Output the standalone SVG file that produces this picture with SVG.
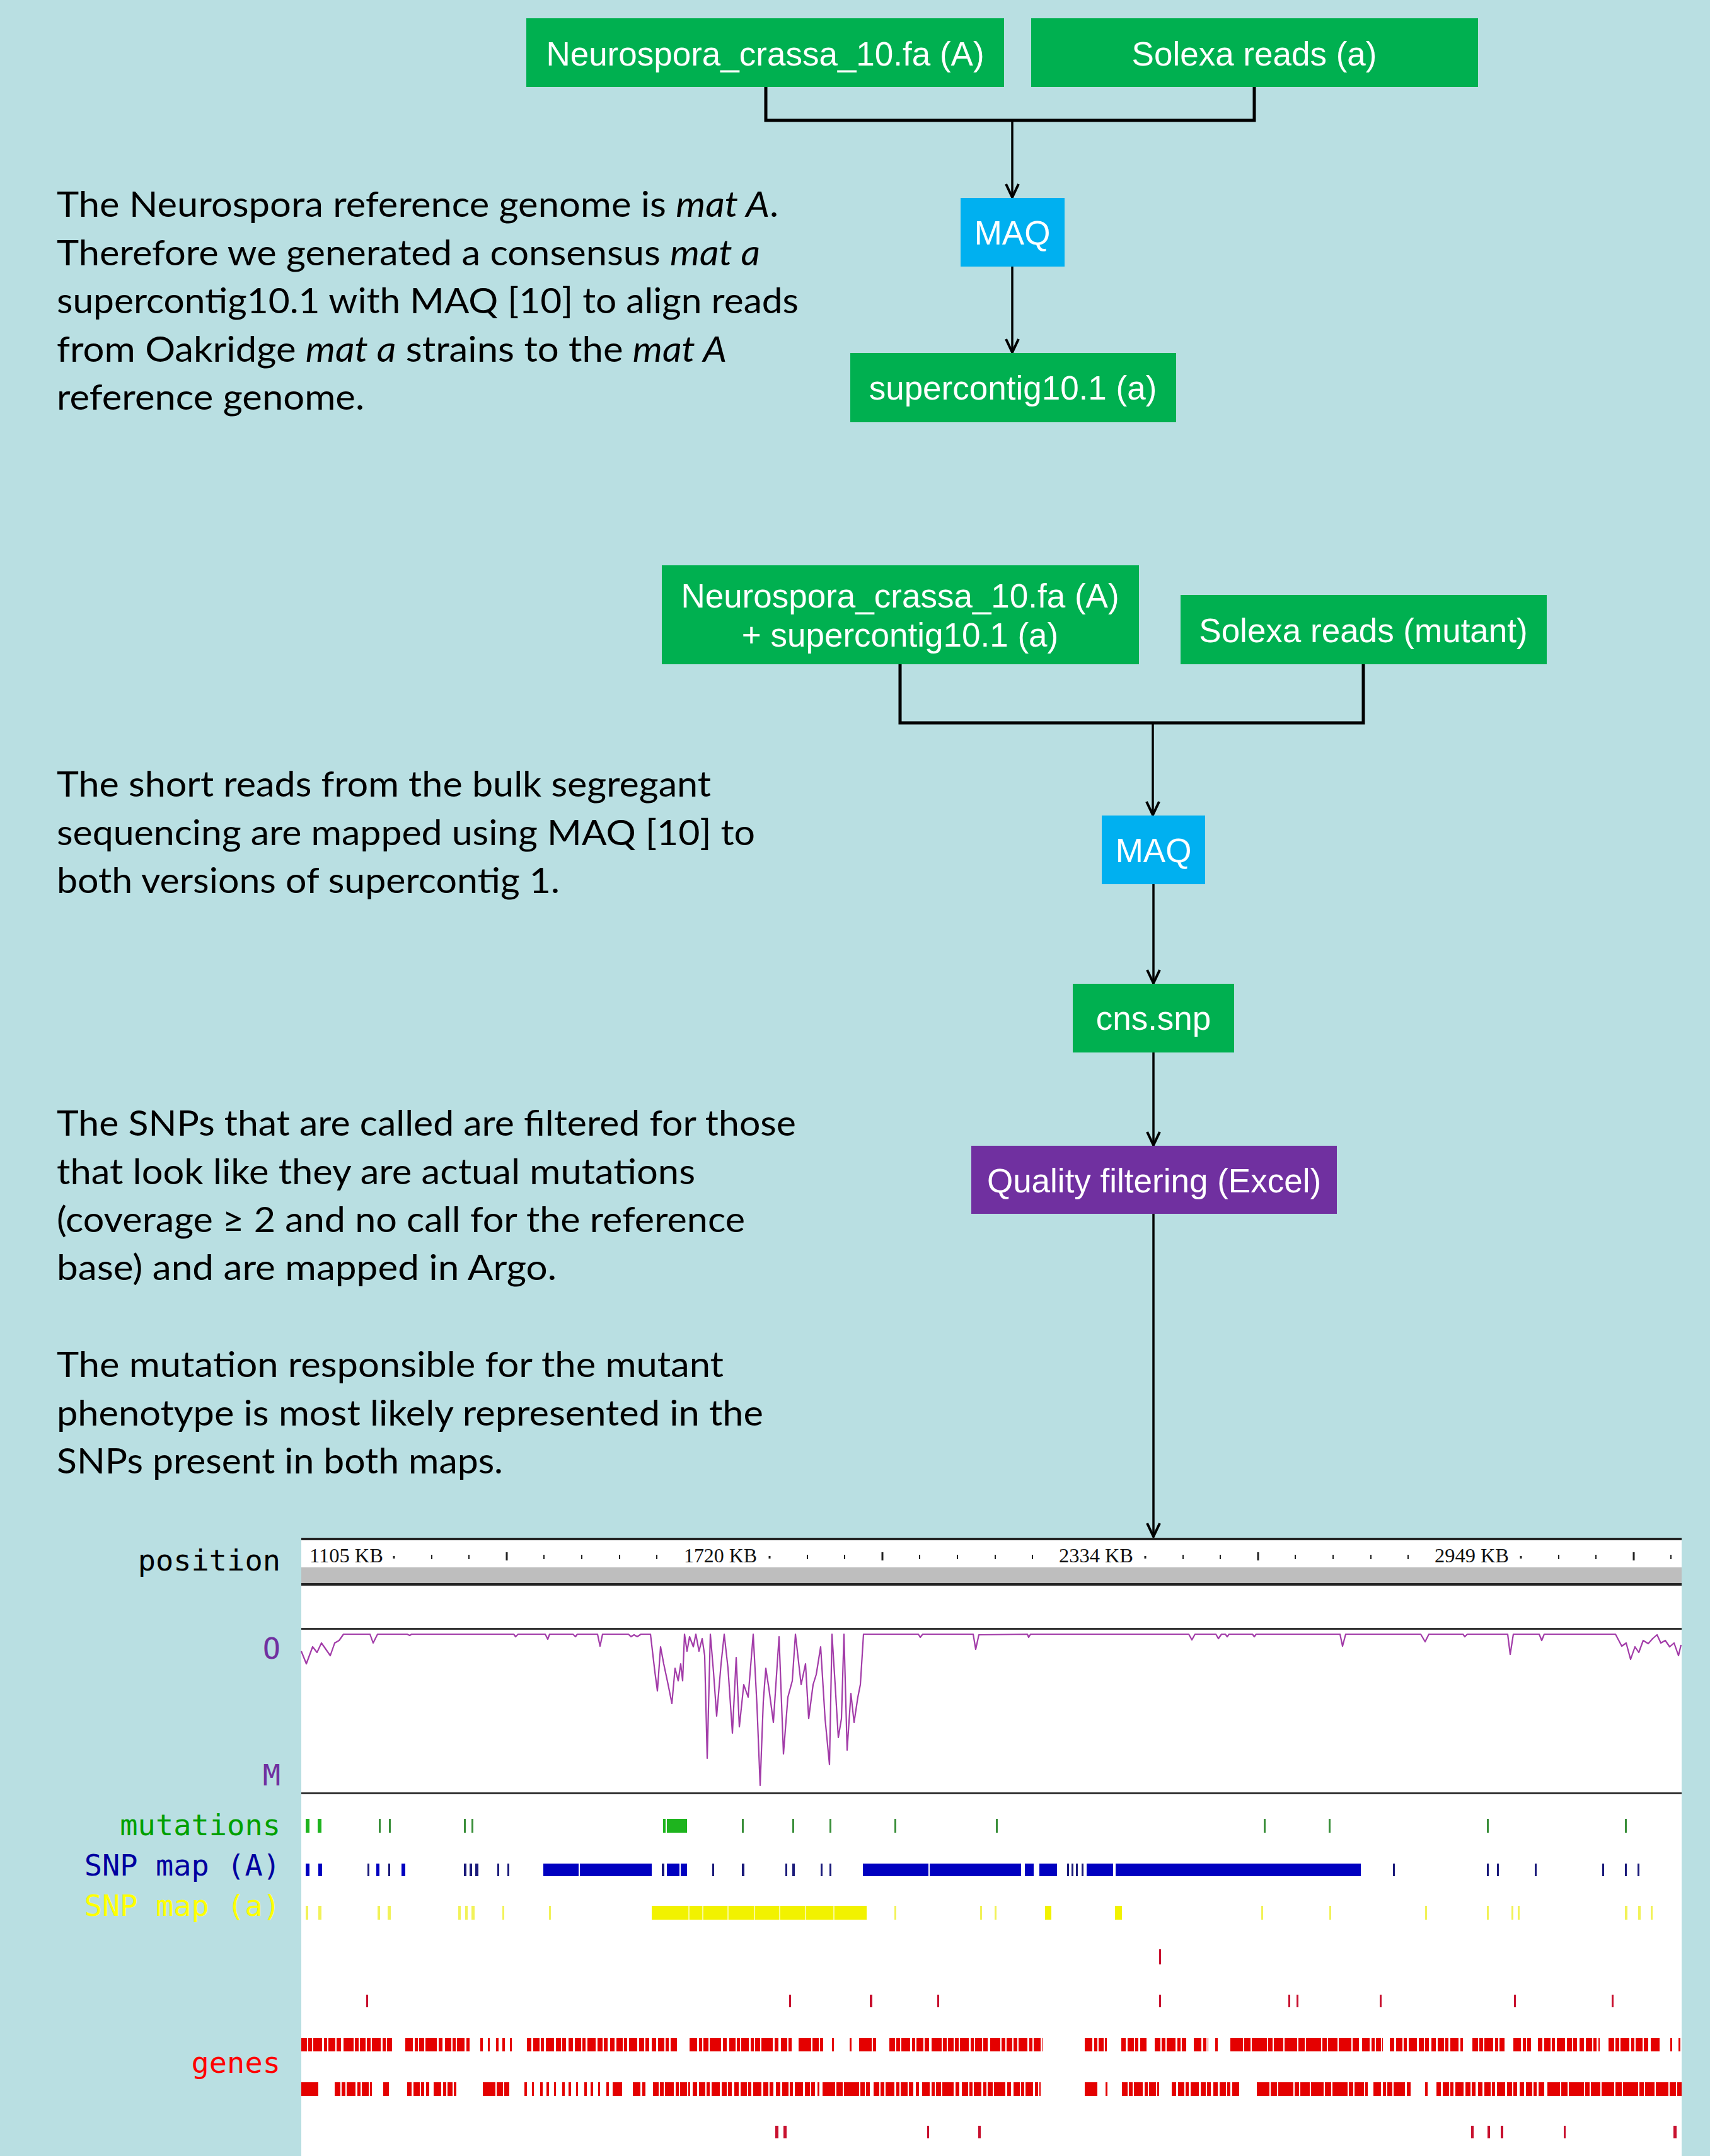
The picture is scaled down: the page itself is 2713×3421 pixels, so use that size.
<svg xmlns="http://www.w3.org/2000/svg" width="2713" height="3421" viewBox="0 0 2713 3421">
<defs>
<marker id="arr" markerUnits="userSpaceOnUse" markerWidth="30" markerHeight="30" viewBox="-25 -15 30 30" refX="0" refY="0" orient="auto">
<path d="M-21,-10 L0,0 L-21,10" fill="none" stroke="#000" stroke-width="4" stroke-linejoin="miter"/>
</marker>
</defs>
<style>
.boxt{font-family:"Liberation Sans",Arial,sans-serif;font-size:53px;fill:#fff;text-anchor:middle}
.body{font-family:Lato,"Open Sans",sans-serif;font-size:56px;fill:#000}
.it{font-style:italic}
.lbl{font-family:"DejaVu Sans Mono","Liberation Mono",monospace;font-size:47px;text-anchor:end}
.conn{stroke:#000;stroke-width:3.5;fill:none}
.brk{stroke:#000;stroke-width:5;fill:none}
.green{fill:#00B050}
.cyan{fill:#00B0F0}
.purp{fill:#7030A0}
.rul{font-family:"Liberation Serif","Times New Roman",serif;font-size:31px;fill:#111}
.g{stroke:#E40000;fill:none}
.r1{stroke-width:21}
.r2{stroke-width:22}
.p1{stroke-dasharray:9 2 6 2 14 3 5 2 11 2 7 4 16 2 6 2}
.p2{stroke-dasharray:12 3 5 2 8 2 18 3 6 4 10 2 5 2}
.p3{stroke-dasharray:4 8 3 10 4 6}
.p4{stroke-dasharray:20 2 10 2 24 2 7 2 15 2}
.p5{stroke-dasharray:7 3 10 2 5 3 13 3 8 2 6 4}
.mut{fill:#3A8F3A}
.mutb{fill:#1EB41E}
.snpA{fill:#1A1A7A}
.snpAb{fill:#0000C0}
.snpa{fill:#EDED20;opacity:0.75}
.snpab{fill:#F2F200}
.red{fill:#C8102E}
</style>
<rect x="0" y="0" width="2713" height="3421" fill="#B9DFE2"/>

<!-- Text blocks -->
<g id="text1" class="body">
<text x="90" y="344" textLength="1145" lengthAdjust="spacingAndGlyphs">The Neurospora reference genome is <tspan class="it">mat A</tspan>.</text>
<text x="90" y="421" textLength="1116" lengthAdjust="spacingAndGlyphs">Therefore we generated a consensus <tspan class="it">mat a</tspan></text>
<text x="90" y="497" textLength="1177" lengthAdjust="spacingAndGlyphs">supercontig10.1 with MAQ [10] to align reads</text>
<text x="90" y="574" textLength="1063" lengthAdjust="spacingAndGlyphs">from Oakridge <tspan class="it">mat a</tspan> strains to the <tspan class="it">mat A</tspan></text>
<text x="90" y="650" textLength="488" lengthAdjust="spacingAndGlyphs">reference genome.</text>
</g>
<g id="text2" class="body">
<text x="90" y="1264" textLength="1038" lengthAdjust="spacingAndGlyphs">The short reads from the bulk segregant</text>
<text x="90" y="1341" textLength="1108" lengthAdjust="spacingAndGlyphs">sequencing are mapped using MAQ [10] to</text>
<text x="90" y="1417" textLength="798" lengthAdjust="spacingAndGlyphs">both versions of supercontig 1.</text>
</g>
<g id="text3" class="body">
<text x="90" y="1802" textLength="1173" lengthAdjust="spacingAndGlyphs">The SNPs that are called are filtered for those</text>
<text x="90" y="1879" textLength="1013" lengthAdjust="spacingAndGlyphs">that look like they are actual mutations</text>
<text x="90" y="1955" textLength="1092" lengthAdjust="spacingAndGlyphs">(coverage ≥ 2 and no call for the reference</text>
<text x="90" y="2031" textLength="793" lengthAdjust="spacingAndGlyphs">base) and are mapped in Argo.</text>
</g>
<g id="text4" class="body">
<text x="90" y="2185" textLength="1058" lengthAdjust="spacingAndGlyphs">The mutation responsible for the mutant</text>
<text x="90" y="2262" textLength="1121" lengthAdjust="spacingAndGlyphs">phenotype is most likely represented in the</text>
<text x="90" y="2338" textLength="708" lengthAdjust="spacingAndGlyphs">SNPs present in both maps.</text>
</g>

<!-- Connectors -->
<g id="connectors">
<path class="brk" d="M1215,138 V191 H1990 V138"/>
<line class="conn" x1="1606" y1="191" x2="1606" y2="313" marker-end="url(#arr)"/>
<line class="conn" x1="1606" y1="423" x2="1606" y2="559" marker-end="url(#arr)"/>
<path class="brk" d="M1428,1054 V1147 H2163 V1054"/>
<line class="conn" x1="1829" y1="1147" x2="1829" y2="1293" marker-end="url(#arr)"/>
<line class="conn" x1="1830" y1="1403" x2="1830" y2="1560" marker-end="url(#arr)"/>
<line class="conn" x1="1830" y1="1670" x2="1830" y2="1817" marker-end="url(#arr)"/>
<line class="conn" x1="1830" y1="1926" x2="1830" y2="2438" marker-end="url(#arr)"/>
</g>

<!-- Nodes -->
<g id="node-neurospora">
<rect class="green" x="835" y="29" width="758" height="109"/>
<text class="boxt" x="1214" y="104">Neurospora_crassa_10.fa (A)</text>
</g>
<g id="node-solexa-a">
<rect class="green" x="1636" y="29" width="709" height="109"/>
<text class="boxt" x="1990" y="104">Solexa reads (a)</text>
</g>
<g id="node-maq1">
<rect class="cyan" x="1524" y="314" width="165" height="109"/>
<text class="boxt" x="1606" y="388">MAQ</text>
</g>
<g id="node-supercontig">
<rect class="green" x="1349" y="560" width="517" height="110"/>
<text class="boxt" x="1607" y="634">supercontig10.1 (a)</text>
</g>
<g id="node-combined">
<rect class="green" x="1050" y="897" width="757" height="157"/>
<text class="boxt" x="1428" y="964">Neurospora_crassa_10.fa (A)</text>
<text class="boxt" x="1428" y="1026">+ supercontig10.1 (a)</text>
</g>
<g id="node-solexa-mutant">
<rect class="green" x="1873" y="944" width="581" height="110"/>
<text class="boxt" x="2163" y="1019">Solexa reads (mutant)</text>
</g>
<g id="node-maq2">
<rect class="cyan" x="1748" y="1294" width="164" height="109"/>
<text class="boxt" x="1830" y="1368">MAQ</text>
</g>
<g id="node-cns">
<rect class="green" x="1702" y="1561" width="256" height="109"/>
<text class="boxt" x="1830" y="1634">cns.snp</text>
</g>
<g id="node-quality">
<rect class="purp" x="1541" y="1818" width="580" height="108"/>
<text class="boxt" x="1831" y="1892">Quality filtering (Excel)</text>
</g>

<!-- Argo map panel -->
<g id="argo-panel">
<rect x="478" y="2440" width="2190" height="981" fill="#fff"/>
<rect x="478" y="2440" width="2190" height="4" fill="#222"/>
<rect x="478" y="2487" width="2190" height="26" fill="#BEBEBE"/>
<rect x="478" y="2512" width="2190" height="4" fill="#222"/>
<rect x="478" y="2583" width="2190" height="3" fill="#333"/>
<rect x="478" y="2844" width="2190" height="3" fill="#333"/>
<g class="rul">
<text x="491" y="2479" textLength="117" lengthAdjust="spacingAndGlyphs">1105 KB</text>
<text x="1085" y="2479" textLength="116" lengthAdjust="spacingAndGlyphs">1720 KB</text>
<text x="1680" y="2479" textLength="118" lengthAdjust="spacingAndGlyphs">2334 KB</text>
<text x="2276" y="2479" textLength="118" lengthAdjust="spacingAndGlyphs">2949 KB</text>
</g>
<path d="M625,2469v4M1221,2469v4M1817,2469v4M2413,2469v4" stroke="#222" stroke-width="3"/>
<path d="M685,2467v7M744,2467v7M863,2467v7M923,2467v7M983,2467v7M1042,2467v7M1281,2467v7M1340,2467v7M1459,2467v7M1519,2467v7M1579,2467v7M1638,2467v7M1877,2467v7M1936,2467v7M2055,2467v7M2115,2467v7M2175,2467v7M2234,2467v7M2473,2467v7M2532,2467v7M2651,2467v7" stroke="#222" stroke-width="2"/>
<path d="M804,2463v13M1400,2463v13M1996,2463v13M2592,2463v13" stroke="#222" stroke-width="3"/>

<polyline fill="none" stroke="#A23BA8" stroke-width="2.2" stroke-linejoin="round" points="478,2620 486,2640 496,2613 503,2622 510,2607 517,2617 524,2627 531,2607 538,2603 545,2593 587,2593 592,2607 599,2593 646,2593 650,2595 653,2593 815,2593 818,2597 822,2593 865,2593 869,2601 872,2593 909,2593 913,2597 916,2593 948,2593 952,2612 956,2593 997,2593 1001,2597 1006,2594 1011,2597 1017,2593 1032,2593 1039,2653 1043,2683 1048,2613 1053,2640 1060,2673 1066,2703 1071,2647 1076,2667 1080,2640 1083,2667 1086,2593 1090,2620 1094,2597 1100,2613 1104,2593 1109,2620 1114,2600 1118,2627 1122,2790 1127,2593 1132,2653 1137,2723 1144,2640 1149,2593 1155,2647 1162,2750 1168,2630 1173,2740 1180,2673 1187,2693 1195,2593 1201,2707 1206,2833 1211,2700 1215,2647 1220,2680 1227,2733 1236,2597 1243,2783 1250,2693 1257,2667 1262,2593 1271,2673 1278,2640 1283,2727 1290,2673 1295,2657 1302,2613 1309,2727 1316,2800 1320,2593 1325,2673 1330,2757 1335,2727 1339,2593 1344,2777 1350,2687 1355,2733 1361,2693 1365,2673 1370,2593 1457,2593 1460,2598 1464,2593 1544,2593 1548,2617 1553,2594 1630,2593 1632,2598 1635,2593 1886,2593 1891,2602 1896,2593 1929,2593 1933,2600 1938,2593 1944,2593 1947,2597 1950,2593 1987,2593 1990,2597 1993,2593 2126,2593 2130,2612 2135,2593 2254,2593 2261,2605 2267,2593 2321,2593 2324,2597 2328,2593 2392,2593 2396,2625 2401,2593 2442,2593 2446,2603 2450,2593 2563,2593 2573,2612 2580,2607 2587,2633 2594,2613 2600,2622 2607,2603 2615,2608 2622,2600 2629,2594 2635,2607 2642,2603 2649,2613 2656,2607 2663,2627 2667,2610"/>

<!-- mutations row -->
<g id="mutations">
<rect class="mutb" x="485" y="2886" width="6" height="22"/>
<rect class="mutb" x="504" y="2886" width="6" height="22"/>
<rect class="mut" x="601" y="2886" width="3" height="22"/>
<rect class="mut" x="617" y="2886" width="3" height="22"/>
<rect class="mut" x="736" y="2886" width="3" height="22"/>
<rect class="mut" x="748" y="2886" width="3" height="22"/>
<rect class="mutb" x="1052" y="2886" width="4" height="22"/>
<rect class="mutb" x="1058" y="2886" width="32" height="22"/>
<rect class="mut" x="1177" y="2886" width="3" height="22"/>
<rect class="mut" x="1257" y="2886" width="3" height="22"/>
<rect class="mut" x="1316" y="2886" width="3" height="22"/>
<rect class="mut" x="1419" y="2886" width="3" height="22"/>
<rect class="mut" x="1580" y="2886" width="3" height="22"/>
<rect class="mut" x="2005" y="2886" width="3" height="22"/>
<rect class="mut" x="2108" y="2886" width="3" height="22"/>
<rect class="mut" x="2359" y="2886" width="3" height="22"/>
<rect class="mut" x="2578" y="2886" width="3" height="22"/>
</g>

<!-- SNP map (A) -->
<g id="snp-A">
<rect class="snpAb" x="485" y="2957" width="6" height="20"/>
<rect class="snpAb" x="505" y="2957" width="6" height="20"/>
<rect class="snpA" x="583" y="2957" width="3" height="20"/>
<rect class="snpAb" x="597" y="2957" width="5" height="20"/>
<rect class="snpA" x="616" y="2957" width="3" height="20"/>
<rect class="snpAb" x="637" y="2957" width="6" height="20"/>
<rect class="snpA" x="736" y="2957" width="4" height="20"/>
<rect class="snpA" x="745" y="2957" width="4" height="20"/>
<rect class="snpA" x="754" y="2957" width="5" height="20"/>
<rect class="snpA" x="789" y="2957" width="3" height="20"/>
<rect class="snpA" x="805" y="2957" width="3" height="20"/>
<rect class="snpAb" x="862" y="2957" width="56" height="20"/>
<rect class="snpAb" x="920" y="2957" width="114" height="20"/>
<rect class="snpA" x="1050" y="2957" width="4" height="20"/>
<rect class="snpAb" x="1058" y="2957" width="20" height="20"/>
<rect class="snpAb" x="1080" y="2957" width="10" height="20"/>
<rect class="snpA" x="1130" y="2957" width="3" height="20"/>
<rect class="snpA" x="1177" y="2957" width="4" height="20"/>
<rect class="snpA" x="1246" y="2957" width="3" height="20"/>
<rect class="snpA" x="1257" y="2957" width="4" height="20"/>
<rect class="snpA" x="1302" y="2957" width="3" height="20"/>
<rect class="snpA" x="1316" y="2957" width="3" height="20"/>
<rect class="snpAb" x="1369" y="2957" width="104" height="20"/>
<rect class="snpAb" x="1475" y="2957" width="145" height="20"/>
<rect class="snpAb" x="1626" y="2957" width="14" height="20"/>
<rect class="snpAb" x="1649" y="2957" width="28" height="20"/>
<rect class="snpA" x="1693" y="2957" width="3" height="20"/>
<rect class="snpA" x="1700" y="2957" width="3" height="20"/>
<rect class="snpA" x="1707" y="2957" width="3" height="20"/>
<rect class="snpA" x="1716" y="2957" width="3" height="20"/>
<rect class="snpAb" x="1724" y="2957" width="42" height="20"/>
<rect class="snpAb" x="1770" y="2957" width="389" height="20"/>
<rect class="snpA" x="2210" y="2957" width="3" height="20"/>
<rect class="snpA" x="2359" y="2957" width="3" height="20"/>
<rect class="snpA" x="2375" y="2957" width="3" height="20"/>
<rect class="snpA" x="2435" y="2957" width="3" height="20"/>
<rect class="snpA" x="2542" y="2957" width="3" height="20"/>
<rect class="snpA" x="2578" y="2957" width="3" height="20"/>
<rect class="snpA" x="2598" y="2957" width="3" height="20"/>
</g>

<!-- SNP map (a) -->
<g id="snp-a">
<rect class="snpa" x="485" y="3024" width="4" height="22"/>
<rect class="snpa" x="505" y="3024" width="5" height="22"/>
<rect class="snpa" x="599" y="3024" width="4" height="22"/>
<rect class="snpa" x="615" y="3024" width="5" height="22"/>
<rect class="snpa" x="727" y="3024" width="4" height="22"/>
<rect class="snpa" x="738" y="3024" width="4" height="22"/>
<rect class="snpa" x="748" y="3024" width="5" height="22"/>
<rect class="snpa" x="797" y="3024" width="3" height="22"/>
<rect class="snpa" x="871" y="3024" width="3" height="22"/>
<rect class="snpab" x="1034" y="3024" width="341" height="22"/>
<path d="M1093,3024v22M1115,3024v22M1155,3024v22M1197,3024v22M1237,3024v22M1278,3024v22M1323,3024v22" stroke="#fff" stroke-width="2" opacity="0.6"/>
<rect class="snpa" x="1419" y="3024" width="3" height="22"/>
<rect class="snpa" x="1555" y="3024" width="3" height="22"/>
<rect class="snpa" x="1578" y="3024" width="3" height="22"/>
<rect class="snpab" x="1658" y="3024" width="10" height="22"/>
<rect class="snpab" x="1769" y="3024" width="11" height="22"/>
<rect class="snpa" x="2001" y="3024" width="3" height="22"/>
<rect class="snpa" x="2109" y="3024" width="3" height="22"/>
<rect class="snpa" x="2261" y="3024" width="3" height="22"/>
<rect class="snpa" x="2359" y="3024" width="3" height="22"/>
<rect class="snpa" x="2398" y="3024" width="3" height="22"/>
<rect class="snpa" x="2408" y="3024" width="3" height="22"/>
<rect class="snpa" x="2578" y="3024" width="4" height="22"/>
<rect class="snpa" x="2599" y="3024" width="4" height="22"/>
<rect class="snpa" x="2619" y="3024" width="3" height="22"/>
</g>

<!-- red single ticks -->
<g id="red-ticks">
<rect class="red" x="1839" y="3093" width="3" height="24"/>
<rect class="red" x="581" y="3165" width="3" height="20"/>
<rect class="red" x="1252" y="3165" width="3" height="20"/>
<rect class="red" x="1380" y="3165" width="4" height="20"/>
<rect class="red" x="1487" y="3165" width="3" height="20"/>
<rect class="red" x="1839" y="3165" width="3" height="20"/>
<rect class="red" x="2044" y="3165" width="3" height="20"/>
<rect class="red" x="2057" y="3165" width="3" height="20"/>
<rect class="red" x="2189" y="3165" width="3" height="20"/>
<rect class="red" x="2402" y="3165" width="3" height="20"/>
<rect class="red" x="2557" y="3165" width="3" height="20"/>
<rect class="red" x="1230" y="3373" width="5" height="20"/>
<rect class="red" x="1243" y="3373" width="5" height="20"/>
<rect class="red" x="1471" y="3373" width="3" height="20"/>
<rect class="red" x="1552" y="3373" width="4" height="20"/>
<rect class="red" x="2334" y="3373" width="4" height="20"/>
<rect class="red" x="2360" y="3373" width="4" height="20"/>
<rect class="red" x="2381" y="3373" width="4" height="20"/>
<rect class="red" x="2481" y="3373" width="3" height="20"/>
<rect class="red" x="2655" y="3373" width="5" height="20"/>
</g>

<!-- genes rows -->
<g id="genes-row1">
<line class="g r1 p1" x1="478" y1="3244.5" x2="622" y2="3244.5"/>
<line class="g r1 p2" x1="643" y1="3244.5" x2="745" y2="3244.5"/>
<line class="g r1 p3" x1="762" y1="3244.5" x2="822" y2="3244.5"/>
<line class="g r1 p5" x1="836" y1="3244.5" x2="1074" y2="3244.5"/>
<line class="g r1 p2" x1="1094" y1="3244.5" x2="1257" y2="3244.5"/>
<line class="g r1 p4" x1="1267" y1="3244.5" x2="1306" y2="3244.5"/>
<line class="g r1" x1="1320" y1="3244.5" x2="1323" y2="3244.5"/>
<line class="g r1" x1="1348" y1="3244.5" x2="1351" y2="3244.5"/>
<line class="g r1 p4" x1="1363" y1="3244.5" x2="1390" y2="3244.5"/>
<line class="g r1 p1" x1="1411" y1="3244.5" x2="1654" y2="3244.5"/>
<line class="g r1 p2" x1="1721" y1="3244.5" x2="1756" y2="3244.5"/>
<line class="g r1 p5" x1="1779" y1="3244.5" x2="1819" y2="3244.5"/>
<line class="g r1 p1" x1="1832" y1="3244.5" x2="1882" y2="3244.5"/>
<line class="g r1 p2" x1="1894" y1="3244.5" x2="1917" y2="3244.5"/>
<line class="g r1 p3" x1="1928" y1="3244.5" x2="1940" y2="3244.5"/>
<line class="g r1 p4" x1="1952" y1="3244.5" x2="2156" y2="3244.5"/>
<line class="g r1 p2" x1="2161" y1="3244.5" x2="2194" y2="3244.5"/>
<line class="g r1 p5" x1="2205" y1="3244.5" x2="2321" y2="3244.5"/>
<line class="g r1 p1" x1="2336" y1="3244.5" x2="2387" y2="3244.5"/>
<line class="g r1 p2" x1="2401" y1="3244.5" x2="2429" y2="3244.5"/>
<line class="g r1 p5" x1="2440" y1="3244.5" x2="2538" y2="3244.5"/>
<line class="g r1 p1" x1="2552" y1="3244.5" x2="2633" y2="3244.5"/>
<line class="g r1" x1="2650" y1="3244.5" x2="2653" y2="3244.5"/>
<line class="g r1" x1="2663" y1="3244.5" x2="2666" y2="3244.5"/>
</g>
<g id="genes-row2">
<line class="g r2" x1="478" y1="3315" x2="505" y2="3315"/>
<line class="g r2 p1" x1="531" y1="3315" x2="590" y2="3315"/>
<line class="g r2 p2" x1="608" y1="3315" x2="617" y2="3315"/>
<line class="g r2 p5" x1="646" y1="3315" x2="681" y2="3315"/>
<line class="g r2 p2" x1="688" y1="3315" x2="724" y2="3315"/>
<line class="g r2 p4" x1="766" y1="3315" x2="808" y2="3315"/>
<line class="g r2 p3" x1="832" y1="3315" x2="969" y2="3315"/>
<line class="g r2 p4" x1="972" y1="3315" x2="987" y2="3315"/>
<line class="g r2 p2" x1="1004" y1="3315" x2="1025" y2="3315"/>
<line class="g r2 p1" x1="1036" y1="3315" x2="1095" y2="3315"/>
<line class="g r2 p5" x1="1099" y1="3315" x2="1300" y2="3315"/>
<line class="g r2 p4" x1="1305" y1="3315" x2="1380" y2="3315"/>
<line class="g r2 p1" x1="1386" y1="3315" x2="1458" y2="3315"/>
<line class="g r2 p2" x1="1463" y1="3315" x2="1651" y2="3315"/>
<line class="g r2 p4" x1="1721" y1="3315" x2="1742" y2="3315"/>
<line class="g r2" x1="1754" y1="3315" x2="1757" y2="3315"/>
<line class="g r2 p1" x1="1780" y1="3315" x2="1839" y2="3315"/>
<line class="g r2 p5" x1="1859" y1="3315" x2="1966" y2="3315"/>
<line class="g r2 p4" x1="1994" y1="3315" x2="2170" y2="3315"/>
<line class="g r2 p2" x1="2179" y1="3315" x2="2242" y2="3315"/>
<line class="g r2" x1="2261" y1="3315" x2="2265" y2="3315"/>
<line class="g r2 p5" x1="2279" y1="3315" x2="2450" y2="3315"/>
<line class="g r2 p4" x1="2455" y1="3315" x2="2668" y2="3315"/>
</g>
</g>

<!-- Track labels -->
<g id="track-labels" class="lbl">
<text x="445" y="2492" fill="#000">position</text>
<text x="445" y="2632" fill="#7030A0">O</text>
<text x="445" y="2833" fill="#7030A0">M</text>
<text x="445" y="2912" fill="#00A000">mutations</text>
<text x="445" y="2976" fill="#0000A0">SNP map (A)</text>
<text x="445" y="3040" fill="#FFFF00">SNP map (a)</text>
<text x="445" y="3289" fill="#FF0000">genes</text>
</g>
</svg>
